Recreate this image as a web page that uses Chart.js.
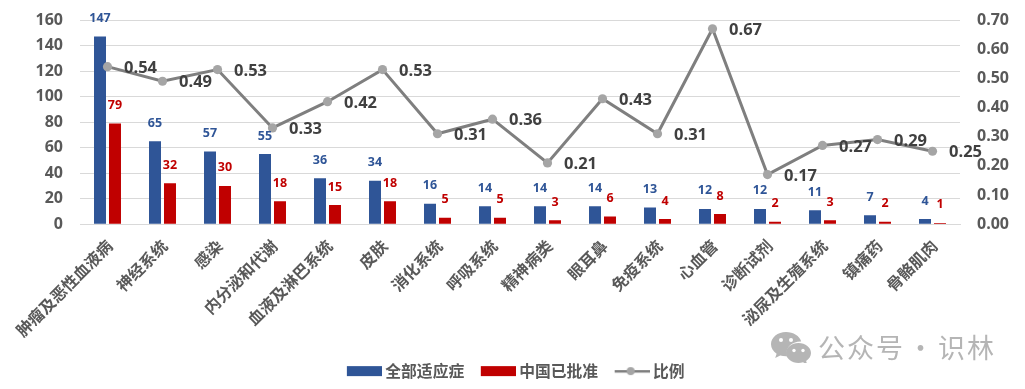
<!DOCTYPE html>
<html>
<head>
<meta charset="utf-8">
<script src="https://cdn.jsdelivr.net/npm/chart.js@4"></script>
<style>
  body { margin: 0; background: #fff; }
  #wrap { position: relative; width: 1025px; height: 389px; overflow: hidden; }
  #mark { position: absolute; left: 771px; top: 332px; width: 40px; height: 31px; }
  .markText { position: absolute; top: 330px; font: 400 27px "Noto Sans CJK SC"; line-height: 34px; color: #b5b5b5; white-space: nowrap; letter-spacing: 2px; }
</style>
</head>
<body>
<div id="wrap">
  <canvas id="chart" width="1025" height="389"></canvas>
  <svg id="mark" viewBox="0 0 40 31">
    <path fill="#b5b5b5" d="M15 0C6.7 0 0 5.5 0 12.3c0 3.900 2.200 7.200 5.600 9.400L4.200 26l5-2.600c1.800.5 3.700.8 5.800.8h1.100a10.500 10.500 0 0 1-.5-3.200c0-6.400 6.200-11.500 13.700-11.500h.9C28.700 4 22.400 0 15 0z"/>
    <path fill="#b5b5b5" d="M27.500 11C20.600 11 15 15.500 15 21s5.600 10 12.500 10c1.600 0 3.100-.2 4.500-.7l4.200 2.200-1.100-3.600c3-1.800 4.900-4.700 4.900-7.900 0-5.500-5.600-10-12.500-10z"/>
    <circle cx="10" cy="8" r="2" fill="#fff"/><circle cx="20" cy="8" r="2" fill="#fff"/>
    <circle cx="23" cy="18.500" r="1.700" fill="#fff"/><circle cx="32" cy="18.500" r="1.700" fill="#fff"/>
  </svg>
  <div class="markText" style="left:818px">公众号</div>
  <div class="markText" style="left:907px">·</div>
  <div class="markText" style="left:938px">识林</div>
</div>
<script>
const categories = ["肿瘤及恶性血液病", "神经系统", "感染", "内分泌和代谢", "血液及淋巴系统", "皮肤", "消化系统", "呼吸系统", "精神病类", "眼耳鼻", "免疫系统", "心血管", "诊断试剂", "泌尿及生殖系统", "镇痛药", "骨骼肌肉"];
const allIndications = [147, 65, 57, 55, 36, 34, 16, 14, 14, 14, 13, 12, 12, 11, 7, 4];
const chinaApproved = [79, 32, 30, 18, 15, 18, 5, 5, 3, 6, 4, 8, 2, 3, 2, 1];
const ratio = [0.54, 0.49, 0.53, 0.33, 0.42, 0.53, 0.31, 0.36, 0.21, 0.43, 0.31, 0.67, 0.17, 0.27, 0.29, 0.25];

const BLUE = "#2f5597";
const RED = "#c00000";
const GREY_TEXT = "#595959";
const LATIN = '"Open Sans", "Noto Sans CJK SC"';
const CJK = '"Noto Sans CJK SC"';

// legend swatches are little canvases so the line entry can carry its dot
// the blank left part of the canvas is what spaces the legend items out
function swatch(color, isLine) {
  const c = document.createElement("canvas");
  c.width = 46;
  c.height = 12;
  const g = c.getContext("2d");
  if (isLine) {
    g.fillStyle = "#7f7f7f";
    g.fillRect(11, 5, 35, 2.5);
    g.fillStyle = "#a5a5a5";
    g.beginPath();
    g.arc(27, 6, 4, 0, Math.PI * 2);
    g.fill();
  } else {
    g.fillStyle = color;
    g.fillRect(11, 1, 35, 10);
  }
  return c;
}

const valueLabels = {
  id: "valueLabels",
  afterDatasetsDraw(chart) {
    const ctx = chart.ctx;
    ctx.save();
    ctx.textAlign = "center";
    ctx.textBaseline = "middle";
    chart.data.datasets.forEach((ds, i) => {
      const isLine = ds.type === "line";
      ctx.font = isLine ? `bold 16.5px ${LATIN}` : `bold 12.5px ${LATIN}`;
      ctx.fillStyle = isLine ? "#404040" : ds.backgroundColor;
      chart.getDatasetMeta(i).data.forEach((el, j) => {
        if (isLine) ctx.fillText(ds.data[j].toFixed(2), el.x + 33, el.y + 1.5);
        else ctx.fillText(ds.data[j], el.x, el.y - 18);
      });
    });
    ctx.restore();
  }
};

new Chart(document.getElementById("chart"), {
  type: "bar",
  data: {
    labels: categories,
    datasets: [
      { type: "line", label: "比例", data: ratio, yAxisID: "y1", order: 1, borderColor: "#7f7f7f", borderWidth: 3, pointRadius: 4.6, pointBackgroundColor: "#a5a5a5", pointBorderColor: "#a5a5a5", pointBorderWidth: 0, tension: 0 },
      { label: "全部适应症", data: allIndications, yAxisID: "y", order: 2, backgroundColor: BLUE, categoryPercentage: 0.545, barPercentage: 0.8 },
      { label: "中国已批准", data: chinaApproved, yAxisID: "y", order: 2, backgroundColor: RED, categoryPercentage: 0.545, barPercentage: 0.8 }
    ]
  },
  options: {
    responsive: false,
    animation: false,
    layout: { padding: { top: 20, left: 0, right: 0, bottom: 0 } },
    scales: {
      x: {
        offset: true,
        grid: { display: false, drawTicks: false },
        border: { color: "#d9d9d9" },
        ticks: { autoSkip: false, maxRotation: 45, minRotation: 45, padding: 12, labelOffset: 2, color: GREY_TEXT, font: { family: CJK, size: 16, weight: "bold" } },
        afterFit(s) { s.height = 129; }
      },
      y: {
        position: "left",
        min: 0,
        max: 160,
        grid: { color: "#d9d9d9", drawTicks: false },
        border: { display: false },
        ticks: { stepSize: 20, padding: 17, color: GREY_TEXT, font: { family: LATIN, size: 16, weight: "bold" } },
        afterFit(s) { s.width = 80; s.paddingTop = 0; s.paddingBottom = 0; }
      },
      y1: {
        position: "right",
        min: 0,
        max: 0.7,
        grid: { display: false, drawTicks: false },
        border: { display: false },
        ticks: { stepSize: 0.1, padding: 17, color: GREY_TEXT, font: { family: LATIN, size: 16, weight: "bold" }, callback: v => v.toFixed(2) },
        afterFit(s) { s.width = 65; s.paddingTop = 0; s.paddingBottom = 0; }
      }
    },
    plugins: {
      tooltip: { enabled: false },
      legend: {
        position: "bottom",
        labels: {
          usePointStyle: true,
          pointStyleWidth: 37,
          padding: 10,
          color: GREY_TEXT,
          font: { family: CJK, size: 15.8, weight: "bold" },
          generateLabels(chart) {
            const order = [1, 2, 0];
            return order.map(i => {
              const ds = chart.data.datasets[i];
              return { text: ds.label, datasetIndex: i, fontColor: GREY_TEXT, pointStyle: swatch(ds.backgroundColor, ds.type === "line"), lineWidth: 0 };
            });
          }
        }
      }
    }
  },
  plugins: [valueLabels]
});
</script>
</body>
</html>
